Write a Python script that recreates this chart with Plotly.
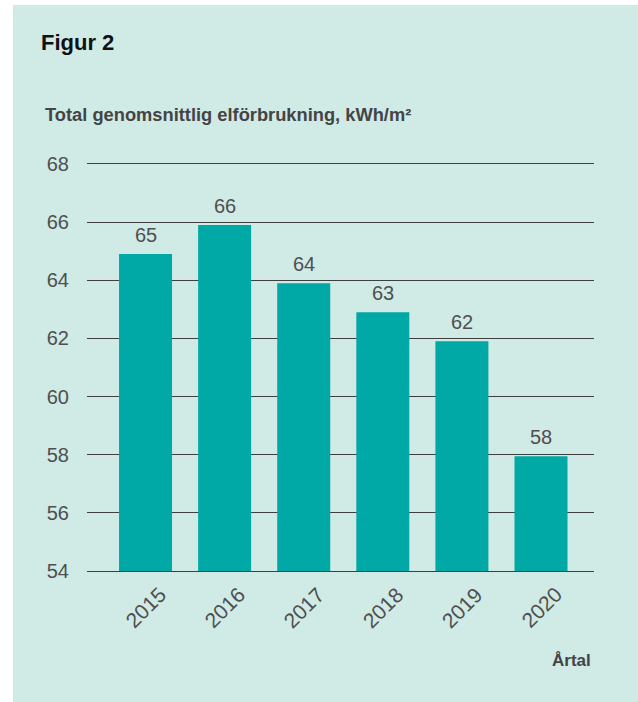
import plotly.graph_objects as go

years = ["2015", "2016", "2017", "2018", "2019", "2020"]
values = [64.9, 65.9, 63.9, 62.9, 61.9, 57.95]
labels = [str(round(v)) for v in values]
y_ticks = [54, 56, 58, 60, 62, 64, 66, 68]

title_text = "Figur 2"
subtitle_text = "Total genomsnittlig elförbrukning, kWh/m²"
xaxis_title = "Årtal"

BG = "#d0eae6"
BAR = "#00a9a5"
TXT = "#4f4f4f"
GRID = "#3f3f3f"

W, H = 638, 702
L, R, T, B = 87, 44, 164, 131
pw, ph = W - L - R, H - T - B

def px(x):
    return (x - L) / pw

def py(y):
    return (H - B - y) / ph

fig = go.Figure()
fig.add_trace(go.Bar(
    x=years, y=values, marker=dict(color=BAR, line=dict(width=0)),
    width=0.67, hoverinfo="skip",
))

annotations = []
for i, (yr, v, lab) in enumerate(zip(years, values, labels)):
    annotations.append(dict(x=i, y=v, xref="x", yref="y", text=lab, showarrow=False,
                            yanchor="middle", yshift=19,
                            font=dict(family="Liberation Sans", size=20, color=TXT)))
    annotations.append(dict(x=i, y=py(607), xref="x", yref="paper", text=yr, showarrow=False,
                            textangle=-45, xanchor="center", yanchor="middle",
                            font=dict(family="Liberation Sans", size=21, color=TXT)))

annotations.append(dict(x=px(593), y=py(660), xref="paper", yref="paper", text="<b>" + xaxis_title + "</b>",
                        showarrow=False, xanchor="right", yanchor="middle",
                        font=dict(family="Liberation Sans", size=17, color="#444444")))
annotations.append(dict(x=px(39), y=py(43), xref="paper", yref="paper", text="<b>" + title_text + "</b>",
                        showarrow=False, xanchor="left", yanchor="middle",
                        font=dict(family="Liberation Sans", size=22, color="#111111")))
annotations.append(dict(x=px(43), y=py(114), xref="paper", yref="paper", text="<b>" + subtitle_text + "</b>",
                        showarrow=False, xanchor="left", yanchor="middle",
                        font=dict(family="Liberation Sans", size=18.3, color="#444444")))

fig.update_layout(
    width=W, height=H,
    margin=dict(l=L, r=R, t=T, b=B, pad=0),
    paper_bgcolor="white",
    plot_bgcolor="rgba(0,0,0,0)",
    showlegend=False,
    annotations=annotations,
    shapes=[dict(type="rect", xref="paper", yref="paper", x0=px(13), x1=px(640), y0=py(705), y1=py(5),
                 fillcolor=BG, line=dict(width=0), layer="below")],
    xaxis=dict(type="category", range=[-0.74, 5.67], showticklabels=False, showgrid=False, zeroline=False,
               showline=True, mirror=True, linecolor=GRID, linewidth=1.2, ticks="", fixedrange=True),
    yaxis=dict(range=[54, 68], tickvals=y_ticks, showgrid=True, gridcolor=GRID, gridwidth=1.2,
               zeroline=False, showline=False, ticks="", ticklabelstandoff=17,
               tickfont=dict(family="Liberation Sans", size=20, color=TXT)),
)

fig.write_html("out.html")
